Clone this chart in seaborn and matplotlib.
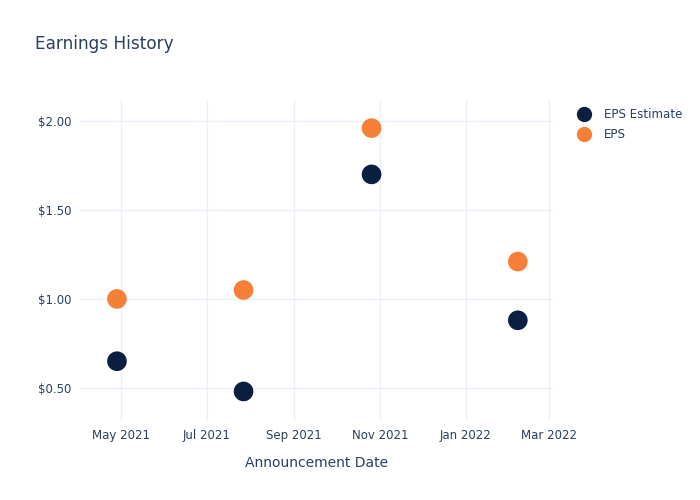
import matplotlib
matplotlib.use("Agg")
import matplotlib.pyplot as plt
import matplotlib.dates as mdates
import matplotlib.ticker as mticker
import seaborn as sns
import pandas as pd
import numpy as np

dates = ["2021-04-28", "2021-07-27", "2021-10-26", "2022-02-07"]
eps_estimate = [0.65, 0.48, 1.70, 0.88]
eps_actual = [1.00, 1.05, 1.96, 1.21]
series_names = ["EPS Estimate", "EPS"]
colors = ["#0b1f41", "#f68038"]

df = pd.DataFrame({
    "date": pd.to_datetime(dates * 2),
    "value": eps_estimate + eps_actual,
    "series": [series_names[0]] * len(dates) + [series_names[1]] * len(dates),
})

sns.set_style("white")
plt.rcParams["font.family"] = ["DejaVu Sans"]
text_color = "#2a3f5f"
grid_color = "#ebf0f8"

fig = plt.figure(figsize=(7, 5), dpi=100)
ax = fig.add_axes([0.114, 0.158, 0.676, 0.642])

sns.scatterplot(data=df, x="date", y="value", hue="series", palette=colors,
                s=200, edgecolor="none", ax=ax, legend=False, zorder=3)

ax.set_xlim(pd.Timestamp("2021-04-01 14:00"), pd.Timestamp("2022-03-04"))
ax.set_ylim(0.314, 2.118)
ax.xaxis.set_major_locator(mdates.MonthLocator(bymonth=[1, 3, 5, 7, 9, 11]))
ax.xaxis.set_major_formatter(mdates.DateFormatter("%b %Y"))
ax.set_yticks([0.5, 1.0, 1.5, 2.0])
ax.yaxis.set_major_formatter(mticker.FuncFormatter(lambda v, p: f"${v:.2f}"))

ax.grid(True, color=grid_color, linewidth=1)
ax.set_axisbelow(True)
for s in ax.spines.values():
    s.set_visible(False)
ax.tick_params(axis="both", length=0, labelsize=8.5, colors=text_color, pad=6)
ax.set_xlabel("Announcement Date", fontsize=10, color=text_color, labelpad=10)
ax.set_ylabel("")

fig.text(0.05, 0.912, "Earnings History", fontsize=12.2, color=text_color,
         ha="left", va="center")

handles = [plt.Line2D([], [], marker="o", linestyle="", markersize=11,
                      markerfacecolor=c, markeredgecolor="none") for c in colors]
fig.legend(handles, series_names, loc="upper left", bbox_to_anchor=(0.817, 0.793),
           frameon=False, fontsize=8.6, labelcolor=text_color, handletextpad=1.1,
           labelspacing=0.55, borderaxespad=0, handlelength=1.2)

fig.savefig("out.png", dpi=100, facecolor="white")
